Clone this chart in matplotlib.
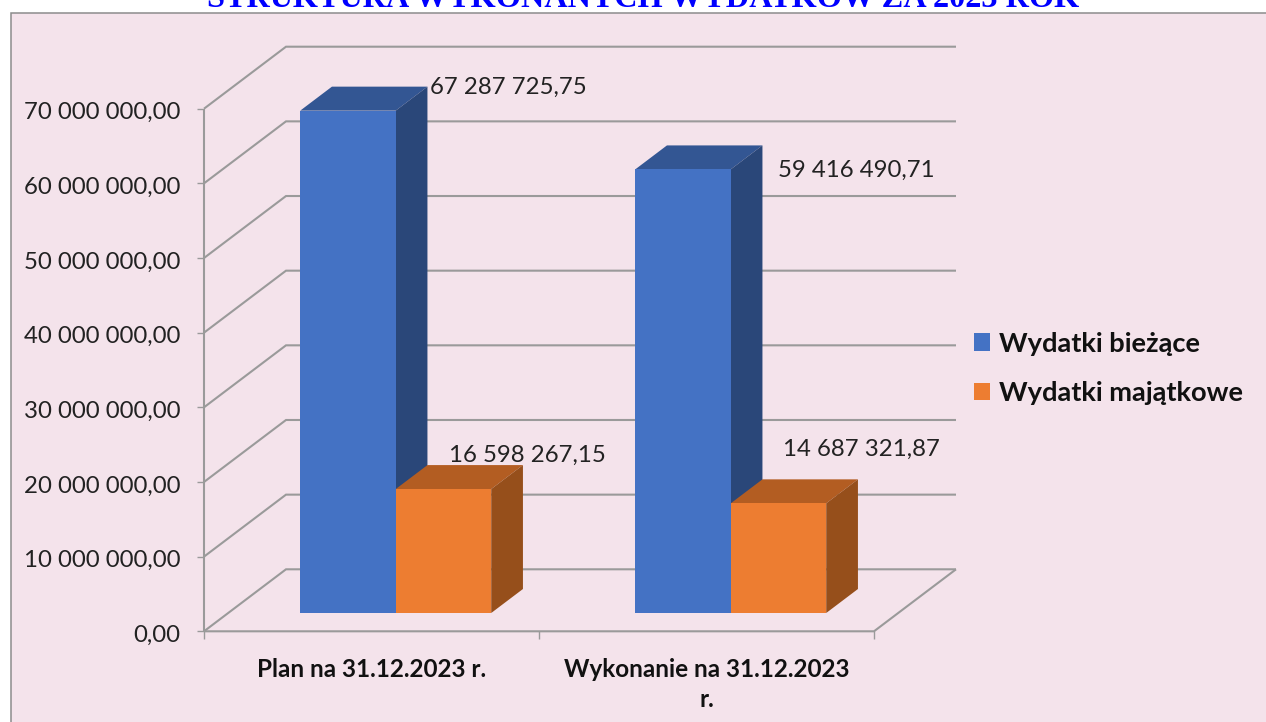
#!/usr/bin/env python3
import matplotlib
matplotlib.use("Agg")
import matplotlib.pyplot as plt
from matplotlib.patches import Patch, Polygon, Rectangle
from matplotlib.transforms import ScaledTranslation

W, H = 1266, 722

categories = ["Plan na 31.12.2023 r.", "Wykonanie na 31.12.2023\nr."]
series_names = ["Wydatki bieżące", "Wydatki majątkowe"]
biezace = [67287725.75, 59416490.71]
majatkowe = [16598267.15, 14687321.87]
y_ticks = [0, 10000000, 20000000, 30000000, 40000000, 50000000, 60000000, 70000000]

BG = "#F4E3EB"
GRID = "#9A9A9A"
FRONT = ["#4472C4", "#ED7D31"]
TOP = ["#335693", "#B35D22"]
SIDE = ["#2A4779", "#964F1B"]

# pixel offsets of each value label from the bar's top back corner
LABEL_OFFSETS = [[(3, -1), (-74, 10)], [(16, -25), (-75, 30)]]

plt.rcParams["font.family"] = ["Lato", "DejaVu Sans"]

def money(v):
    return f"{v:,.2f}".replace(",", " ").replace(".", ",")

fig = plt.figure(figsize=(W / 100, H / 100), dpi=100, facecolor="white")

# chart area, runs off the right and bottom edge
fig.add_artist(Rectangle((10.5 / W, -0.01), 1.0, 1 - 13 / H + 0.01, transform=fig.transFigure,
                         facecolor=BG, edgecolor="#8C8C8C", linewidth=1.1, zorder=-5))

fig.text(643 / W, 1 - 7 / H, "STRUKTURA WYKONANYCH WYDATKÓW ZA 2023 ROK", family="Liberation Serif",
         fontsize=23.2, fontweight="bold", color="#0000FF", ha="center", va="baseline")

ax = fig.add_axes([204 / W, 1 - 631.3 / H, 670 / W, 522.6 / H])
ax.patch.set_visible(False)
ax.set_xlim(0, 2)
ax.set_ylim(0, 70000000)
for s in ax.spines.values():
    s.set_visible(False)

# oblique projection: depth 0 is the front plane, depth 1 the back wall
DX = 82 / 335
DY = 62 * 70000000 / 522.6

def proj(x, v, d):
    return (x + d * DX, v + d * DY)

def line(pts):
    ax.plot([p[0] for p in pts], [p[1] for p in pts], color=GRID, lw=1.5, clip_on=False,
            solid_capstyle="butt", solid_joinstyle="miter", zorder=1)

for t in y_ticks:
    line([proj(0, t, 0), proj(0, t, 1), proj(2, t, 1)])
line([proj(0, 0, 0), proj(2, 0, 0), proj(2, 0, 1)])
line([proj(0, 0, 0), proj(0, 70000000, 0)])

ax.set_yticks(y_ticks)
ax.set_yticklabels([money(t) for t in y_ticks], fontsize=17.3, color="#222222")
ax.tick_params(axis="y", length=5, width=1, color=GRID, pad=12)
# labels sit a little below their ticks
for lab in ax.get_yticklabels():
    lab.set_transform(lab.get_transform() + ScaledTranslation(0, -2 / 100, fig.dpi_scale_trans))
ax.set_xticks([0, 1, 2])
ax.set_xticklabels([])
ax.tick_params(axis="x", length=6, width=1, color=GRID)
ax.set_xticks([0.5, 1.5], minor=True)
ax.set_xticklabels(categories, minor=True, fontsize=17.5, fontweight="bold", color="#111111", linespacing=1.4)
ax.tick_params(axis="x", which="minor", length=0, pad=19)

# bars
bar_w = 95.5 / 335
d0 = 18.3 / 62
d1 = d0 + 24 / 62

def bar(x0, x1, v, k):
    ax.add_patch(Polygon([proj(x0, v, d0), proj(x1, v, d0), proj(x1, v, d1), proj(x0, v, d1)],
                         facecolor=TOP[k], edgecolor="none", clip_on=False, zorder=3))
    ax.add_patch(Polygon([proj(x1, 0, d0), proj(x1, v, d0), proj(x1, v, d1), proj(x1, 0, d1)],
                         facecolor=SIDE[k], edgecolor="none", clip_on=False, zorder=3))
    ax.add_patch(Polygon([proj(x0, 0, d0), proj(x1, 0, d0), proj(x1, v, d0), proj(x0, v, d0)],
                         facecolor=FRONT[k], edgecolor="none", clip_on=False, zorder=3))

for i in range(len(categories)):
    c = i + 0.5
    bar(c - bar_w, c, biezace[i], 0)
    bar(c, c + bar_w, majatkowe[i], 1)
    for k, vals in enumerate([biezace, majatkowe]):
        x1 = c if k == 0 else c + bar_w
        ax.annotate(money(vals[i]), xy=proj(x1, vals[i], d1), xytext=LABEL_OFFSETS[i][k],
                    textcoords="offset pixels", fontsize=17.3, color="#222222",
                    ha="left", va="center", annotation_clip=False, zorder=5)

handles = [Patch(facecolor=FRONT[0], label=series_names[0]), Patch(facecolor=FRONT[1], label=series_names[1])]
fig.legend(handles=handles, loc="center left", bbox_to_anchor=(952 / W, 1 - 368.5 / H), frameon=False,
           prop={"size": 19.6, "weight": "bold"}, labelcolor="#111111", handlelength=0.6, handleheight=0.6,
           handletextpad=0.33, labelspacing=0.95, borderpad=0.3)

fig.savefig("out.png", dpi=100, facecolor="white")
